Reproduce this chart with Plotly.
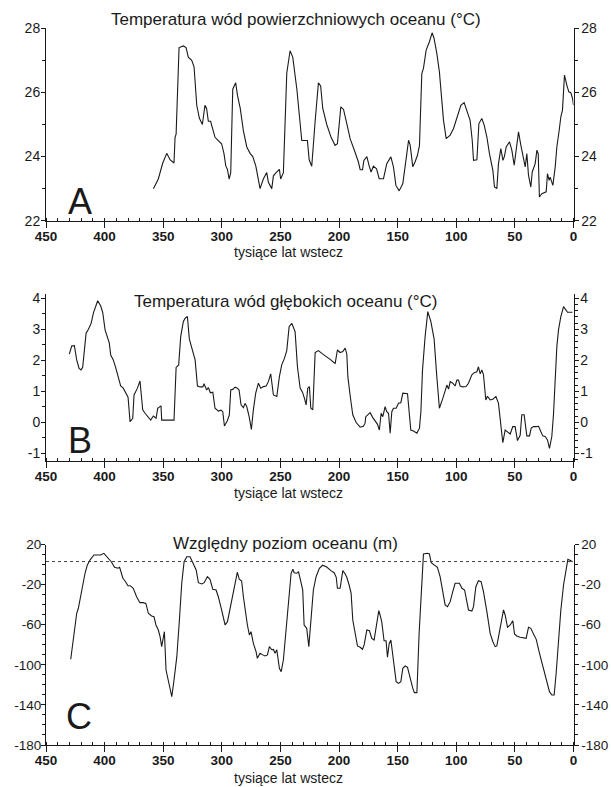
import plotly.graph_objects as go

# ---------------- data ----------------
x_tick_vals = [450, 400, 350, 300, 250, 200, 150, 100, 50, 0]
x_tick_text = ["450", "400", "350", "300", "250", "200", "150", "100", "50", "0"]

a_tick_vals = [22, 24, 26, 28]
a_tick_text = ["22", "24", "26", "28"]
b_tick_vals = [-1, 0, 1, 2, 3, 4]
b_tick_text = ["-1", "0", "1", "2", "3", "4"]
c_tick_vals = [-180, -140, -100, -60, -20, 20]
c_tick_text = ["-180", "-140", "-100", "-60", "-20", "20"]

title_a = "Temperatura wód powierzchniowych oceanu (°C)"
title_b = "Temperatura wód głębokich oceanu (°C)"
title_c = "Względny poziom oceanu (m)"
x_title = "tysiące lat wstecz"
reference_level = 3

# Panel A: sea surface temperature
sst_age = [358.4, 354.2, 350.4, 347.0, 344.2, 340.8, 339.9, 339.0, 336.5, 332.8, 330.5, 328.6,
           325.7, 323.7, 321.4, 319.2, 316.6, 314.4, 313.0, 311.5, 309.6, 307.7, 305.8, 303.0,
           300.2, 298.2, 296.6, 295.2, 293.8, 292.4, 290.7, 288.2, 286.6, 284.3, 281.6, 278.7,
           275.9, 273.6, 271.0, 267.4, 264.6, 261.7, 260.3, 257.4, 256.0, 253.7, 250.9, 249.8,
           247.5, 244.6, 241.8, 239.5, 236.0, 231.8, 229.8, 227.0, 225.5, 223.3, 220.4, 217.6,
           215.7, 213.9, 210.5, 206.8, 203.4, 201.4, 198.5, 196.2, 193.4, 190.5, 186.5, 183.5,
           182.0, 180.0, 178.8, 176.3, 174.1, 172.7, 170.7, 168.0, 165.8, 162.1, 159.3, 155.8,
           153.6, 151.5, 148.7, 145.6, 142.2, 140.7, 139.3, 137.1, 135.2, 133.1, 131.4, 129.4,
           128.0, 125.7, 122.9, 120.6, 119.0, 116.6, 114.4, 112.3, 110.9, 108.6, 105.2, 102.4,
           99.0, 96.1, 93.3, 91.0, 88.2, 86.4, 85.3, 82.4, 80.7, 78.2, 76.2, 73.9, 71.7, 68.8,
           67.4, 65.4, 64.0, 62.0, 60.2, 59.0, 57.4, 54.6, 52.6, 50.6, 48.9, 46.9, 44.9, 43.2,
           41.2, 39.8, 38.4, 36.4, 35.2, 32.7, 31.2, 30.1, 29.1, 27.0, 23.3, 22.2, 20.8, 19.9,
           17.6, 15.6, 14.2, 12.2, 10.8, 9.4, 7.7, 5.7, 4.0, 2.3, 0.8, 0.0]
sst_value = [23.0, 23.3, 23.8, 24.1, 23.9, 23.8, 24.6, 24.7, 27.4, 27.45, 27.4, 27.1,
             27.0, 26.8, 25.6, 25.2, 25.0, 25.6, 25.5, 25.1, 25.1, 24.8, 24.6, 24.5,
             24.4, 24.1, 23.7, 23.6, 23.3, 23.5, 26.1, 26.3, 25.9, 25.5, 24.8, 24.3,
             24.1, 24.0, 23.7, 23.0, 23.3, 23.5, 23.2, 23.0, 23.4, 23.5, 23.6, 23.3,
             23.5, 26.6, 27.3, 27.1, 26.1, 24.5, 24.5, 24.5, 23.9, 23.7, 25.1, 26.3,
             26.2, 25.5, 25.0, 24.6, 24.35, 24.4, 25.55, 25.47, 25.03, 24.55, 24.15, 23.83,
             23.59, 23.59, 23.88, 24.0, 23.68, 23.52, 23.7, 23.62, 23.31, 23.31, 23.78, 23.99,
             23.68, 23.1, 22.93, 23.16, 24.09, 24.51, 24.35, 23.68, 23.83, 24.04, 24.35, 26.59,
             26.75, 27.32, 27.58, 27.86, 27.69, 27.22, 26.64, 25.86, 25.13, 24.56, 24.67, 24.87,
             25.24, 25.6, 25.68, 25.45, 25.13, 24.51, 23.88, 23.9, 25.03, 25.19, 24.98, 24.61, 24.09, 23.57,
             23.05, 23.0, 23.78, 24.25, 23.88, 24.0, 24.3, 24.46, 24.2, 23.73, 24.25, 24.77, 24.35, 23.99,
             23.68, 24.09, 23.42, 23.05, 23.52, 23.78, 24.2, 24.09, 22.74, 22.84, 22.9, 23.47, 23.26, 23.36,
             23.1, 23.68, 24.3, 24.82, 25.24, 25.45, 26.54, 26.23, 26.02, 25.99, 25.81, 25.6]

# Panel B: deep ocean temperature
dwt_age = [430.1, 428.1, 425.8, 423.8, 421.8, 420.1, 418.7, 415.8, 413.8, 411.5, 409.6, 407.6,
           405.9, 403.3, 401.6, 399.6, 397.7, 396.0, 394.8, 392.6, 390.6, 388.4, 386.3, 384.1,
           381.7, 380.0, 378.3, 376.0, 374.9, 372.0, 369.8, 367.5, 365.5, 363.3, 360.7, 358.4,
           356.1, 354.7, 351.9, 351.3, 340.8, 339.0, 336.8, 335.1, 332.8, 331.4, 329.4, 327.7,
           324.8, 322.8, 320.8, 318.5, 316.2, 315.2, 312.9, 311.5, 309.8, 307.7, 305.8, 302.9,
           300.7, 299.2, 297.8, 295.3, 293.6, 292.4, 290.7, 288.7, 286.7, 285.3, 283.6, 281.6,
           280.2, 278.7, 276.7, 274.8, 273.1, 271.1, 268.8, 266.8, 264.5, 262.2, 260.3, 258.3,
           256.0, 253.1, 250.9, 248.9, 246.6, 244.6, 242.6, 240.3, 237.5, 235.5, 233.2, 231.2,
           229.5, 228.1, 226.7, 225.3, 224.1, 222.4, 220.4, 217.6, 214.7, 210.4, 207.6, 204.2,
           203.3, 201.4, 199.1, 196.8, 194.8, 193.4, 192.5, 190.6, 188.3, 185.4, 182.0, 179.2,
           177.8, 177.2, 174.9, 173.5, 171.2, 169.3, 167.3, 165.6, 164.1, 162.7, 160.7, 159.3,
           157.8, 156.4, 155.0, 153.6, 151.3, 149.3, 147.3, 145.6, 142.7, 141.6, 138.8, 136.5,
           133.6, 131.4, 130.2, 128.8, 126.6, 124.3, 121.7, 118.9, 116.6, 114.4, 111.5, 109.2,
           108.0, 106.6, 105.2, 103.0, 101.0, 99.5, 98.1, 96.7, 94.5, 91.6, 89.6, 86.7, 84.7,
           82.4, 81.1, 79.6, 78.2, 76.8, 74.8, 73.4, 71.1, 68.8, 66.2, 64.0, 62.6, 60.3, 58.3,
           56.3, 54.0, 51.8, 49.8, 47.8, 45.5, 44.1, 42.1, 39.8, 37.5, 36.1, 34.1, 31.8, 29.8,
           27.9, 26.2, 24.2, 22.2, 20.5, 18.5, 17.1, 15.6, 14.2, 12.8, 10.8, 8.5, 6.5, 5.1, 2.8, 0.9]
dwt_value = [2.2, 2.46, 2.47, 2.01, 1.74, 1.69, 1.77, 2.87, 3.0, 3.19, 3.52, 3.73,
             3.92, 3.75, 3.54, 2.98, 2.74, 2.55, 2.17, 2.01, 1.77, 1.49, 1.17, 1.1,
             0.94, 0.81, 0.02, 0.13, 0.88, 1.1, 1.33, 0.4, 0.29, 0.18, 0.07, 0.2,
             0.13, 0.45, 0.53, 0.07, 0.07, 1.77, 1.85, 2.76, 3.25, 3.35, 3.41, 2.68,
             2.33, 2.01, 1.17, 1.14, 1.14, 1.24, 1.04, 1.12, 0.95, 0.97, 0.45, 0.36,
             0.39, 0.34, -0.12, 0.05, 0.24, 1.04, 1.06, 1.13, 1.1, 1.04, 0.56, 0.47,
             0.61, 0.5, 0.18, -0.23, 0.4, 0.94, 1.26, 1.1, 1.15, 1.17, 1.31, 1.56,
             0.88, 0.83, 1.47, 1.85, 2.06, 2.31, 3.08, 3.19, 2.92, 1.79, 1.1, 0.97,
             0.77, 0.56, 1.1, 1.15, 0.45, 0.4, 2.25, 2.31, 2.22, 2.12, 2.03, 1.92,
             1.9, 2.33, 2.25, 2.28, 2.39, 2.21, 1.47, 0.88, 0.24, -0.01, -0.16, -0.13,
             -0.03, 0.18, 0.27, 0.31, 0.15, 0.05, -0.06, -0.25, 0.29, 0.18, 0.5, 0.34,
             0.29, -0.35, 0.34, 0.45, 0.45, 0.61, 0.63, 0.94, 0.94, 0.92, -0.25, -0.28,
             -0.35, -0.19, 0.34, 1.69, 2.76, 3.57, 3.25, 2.68, 1.47, 0.45, 0.77, 1.04,
             1.2, 1.07, 1.31, 1.26, 1.17, 1.36, 1.36, 1.17, 1.14, 1.15, 1.26, 1.53, 1.6,
             1.63, 1.79, 1.56, 1.69, 1.53, 0.72, 0.84, 0.72, 0.74, 0.83, 0.61, 0.18, -0.66, -0.25,
             -0.3, -0.38, -0.14, -0.14, -0.59, -0.42, 0.24, 0.24, -0.44, -0.44, -0.19, -0.14, -0.14, -0.13,
             -0.3, -0.44, -0.46, -0.57, -0.84, -0.46, 0.24, 1.36, 2.44, 2.98, 3.41, 3.73, 3.6, 3.55, 3.55, 3.55]

# Panel C: relative sea level
sea_age = [428.9, 426.7, 423.8, 422.4, 419.5, 416.7, 414.7, 412.5, 409.1, 405.4, 403.4, 400.6,
           397.1, 394.3, 391.5, 388.7, 387.2, 384.4, 382.1, 380.1, 378.1, 375.6, 372.7, 369.9,
           367.1, 364.8, 362.7, 359.9, 357.9, 356.2, 354.2, 352.7, 351.3, 349.9, 349.0, 347.6,
           345.3, 342.7, 340.8, 338.4, 336.2, 334.2, 332.2, 329.9, 327.1, 324.2, 321.9, 320.0,
           317.1, 315.1, 312.3, 310.1, 307.7, 304.9, 303.0, 300.2, 297.2, 295.2, 293.1, 290.8,
           288.8, 286.8, 285.1, 283.1, 281.6, 280.2, 278.2, 276.5, 275.1, 273.1, 270.8, 269.7,
           267.4, 265.1, 263.1, 261.1, 259.4, 257.4, 256.0, 254.6, 253.1, 250.9, 249.4, 247.5,
           245.2, 243.2, 240.9, 239.4, 238.3, 236.0, 234.6, 232.6, 231.0, 229.8, 227.6, 225.8,
           224.1, 221.9, 219.6, 216.8, 214.0, 210.5, 207.0, 204.2, 202.4, 201.4, 199.1, 196.8,
           194.8, 193.4, 191.4, 189.7, 188.3, 186.3, 184.3, 182.0, 180.0, 178.6, 176.3, 174.1,
           172.1, 170.1, 167.8, 166.1, 165.0, 163.6, 161.6, 159.9, 158.7, 157.3, 155.8, 154.4,
           153.0, 151.3, 149.3, 147.3, 145.6, 143.6, 141.6, 139.4, 137.1, 135.7, 133.6, 131.7,
           130.0, 128.0, 124.6, 122.9, 121.4, 118.9, 116.1, 113.8, 111.5, 109.5, 107.5, 105.2,
           103.0, 101.0, 97.3, 95.2, 92.9, 91.0, 89.6, 86.7, 85.3, 83.3, 81.1, 78.8, 76.8,
           73.9, 71.1, 68.8, 66.8, 65.4, 63.1, 61.1, 59.7, 58.3, 56.3, 54.0, 51.8, 50.3, 48.4,
           45.5, 42.1, 40.4, 38.4, 36.4, 34.1, 31.8, 29.0, 26.1, 23.3, 20.5, 18.5, 16.5, 14.8,
           12.8, 10.8, 8.5, 6.5, 4.8, 2.2, 0.8]
sea_value = [-94.5, -75.3, -48.6, -43.6, -25.4, -8.7, -0.4, 4.5, 9.5, 9.5, 9.5, 11.2,
             6.2, 2.8, -2.7, -3.7, -2.7, -13.7, -17.1, -21.1, -21.1, -23.7, -32.1, -38.0,
             -38.0, -38.7, -48.6, -51.3, -52.0, -60.3, -65.3, -71.9, -81.9, -71.9, -67.0, -105.2,
             -118.5, -131.8, -115.2, -91.9, -55.3, -18.7, 2.8, 7.8, 7.8, 1.2, -5.4, -18.1,
             -19.4, -18.1, -12.1, -14.7, -24.7, -25.4, -32.1, -45.3, -60.3, -57.0, -45.3, -32.1,
             -18.7, -7.7, -14.7, -16.4, -32.1, -45.3, -60.3, -70.2, -67.0, -78.6, -86.9, -93.5,
             -88.5, -90.1, -91.2, -90.1, -81.9, -85.0, -84.7, -88.5, -85.0, -103.5, -106.9, -95.2,
             -62.0, -35.4, -8.7, -4.7, -8.1, -8.7, -7.1, -17.1, -25.4, -60.3, -63.6, -81.9,
             -55.3, -25.4, -12.1, -3.7, -0.7, -2.5, -6.1, -8.1, -12.7, -23.7, -23.7, -6.1,
             -9.4, -12.7, -20.4, -28.7, -55.3, -70.3, -81.2, -82.5, -84.5, -80.2, -65.3, -66.0,
             -73.6, -75.3, -57.0, -46.0, -50.3, -57.0, -76.0, -76.0, -92.5, -79.2, -75.3, -90.2,
             -103.5, -116.8, -118.5, -116.8, -103.5, -101.2, -102.5, -113.5, -123.5, -127.8, -127.8, -68.6,
             -27.1, 10.5, 11.2, 10.5, 1.8, -0.4, -2.7, -12.1, -27.1, -40.3, -42.0, -37.0,
             -27.1, -18.7, -18.7, -23.7, -25.4, -35.4, -45.3, -46.3, -42.0, -22.1, -16.1, -17.1, -27.1,
             -47.0, -68.6, -77.0, -81.9, -81.2, -67.0, -52.0, -45.3, -50.3, -62.6, -60.3, -56.0, -69.3, -71.3,
             -72.6, -73.6, -73.6, -62.6, -63.6, -69.3, -74.6, -88.5, -101.9, -116.8, -126.8, -130.1, -130.1, -108.5,
             -75.3, -45.3, -20.4, -3.7, 5.2, 3.8, 2.8]

# ---------------- figure ----------------
W, H = 611, 787
FONT = "Liberation Sans, Arial, sans-serif"
INK = "#1a1a1a"


def fx(px):
    return px / W


def fy(py):
    return 1 - py / H


x_dom = [fx(46), fx(573.5)]

fig = go.Figure()
line_style = dict(color=INK, width=1.1)
fig.add_trace(go.Scatter(x=sst_age, y=sst_value, mode="lines", line=line_style,
                         xaxis="x", yaxis="y", showlegend=False))
fig.add_trace(go.Scatter(x=dwt_age, y=dwt_value, mode="lines", line=line_style,
                         xaxis="x2", yaxis="y3", showlegend=False))
fig.add_trace(go.Scatter(x=sea_age, y=sea_value, mode="lines", line=line_style,
                         xaxis="x3", yaxis="y5", showlegend=False))
# invisible traces to attach right-hand axes
for xa, ya in [("x", "y2"), ("x2", "y4"), ("x3", "y6")]:
    fig.add_trace(go.Scatter(x=[None], y=[None], mode="lines", xaxis=xa, yaxis=ya,
                             showlegend=False, hoverinfo="skip"))


def xaxis(anchor):
    return dict(domain=x_dom, anchor=anchor, range=[450, 0], tickmode="array",
                tickvals=x_tick_vals, ticktext=x_tick_text, ticks="outside", ticklen=6,
                tickwidth=1, tickcolor=INK, showline=True, linecolor=INK, linewidth=1,
                showgrid=False, zeroline=False, automargin=False, ticklabelstandoff=-3,
                tickfont=dict(family=FONT, size=13.5, color=INK, weight="bold"),
                minor=dict(tickmode="linear", tick0=0, dtick=10, ticks="inside", ticklen=3,
                           tickwidth=1, tickcolor=INK, showgrid=False))


def yaxis(dom, rng, vals, text, minor_dt, anchor, side, overlay=None, size=14, standoff=0):
    d = dict(domain=dom, anchor=anchor, side=side, range=rng, tickmode="array",
             tickvals=vals, ticktext=text, ticks="outside", ticklen=4, tickwidth=1,
             tickcolor=INK, showline=True, linecolor=INK, linewidth=1, showgrid=False,
             zeroline=False, automargin=False, ticklabelstandoff=standoff,
             tickfont=dict(family=FONT, size=size, color=INK),
             minor=dict(tickmode="linear", tick0=0, dtick=minor_dt, ticks="outside",
                        ticklen=3, tickwidth=1, tickcolor=INK, showgrid=False))
    if overlay:
        d["overlaying"] = overlay
    return d


dom_a = [fy(220.7), fy(28.3)]
dom_b = [fy(461.0), fy(293.6)]
dom_c = [fy(745.0), fy(544.5)]
rng_a = [22, 28]
rng_b = [-1.25, 4.15]
rng_c = [-180, 20]

fig.update_layout(
    width=W, height=H,
    margin=dict(l=0, r=0, t=0, b=0),
    paper_bgcolor="white", plot_bgcolor="white",
    font=dict(family=FONT, color=INK),
    hovermode=False,
    xaxis=xaxis("y"), xaxis2=xaxis("y3"), xaxis3=xaxis("y5"),
    yaxis=yaxis(dom_a, rng_a, a_tick_vals, a_tick_text, 1, "x", "left", standoff=-2),
    yaxis2=yaxis(dom_a, rng_a, a_tick_vals, a_tick_text, 1, "x", "right", "y", standoff=0),
    yaxis3=yaxis(dom_b, rng_b, b_tick_vals, b_tick_text, 0.5, "x2", "left", standoff=-2),
    yaxis4=yaxis(dom_b, rng_b, b_tick_vals, b_tick_text, 0.2, "x2", "right", "y3", standoff=-1),
    yaxis5=yaxis(dom_c, rng_c, c_tick_vals, c_tick_text, 10, "x3", "left", size=13.5,
                 standoff=-3),
    yaxis6=yaxis(dom_c, rng_c, c_tick_vals, c_tick_text, 10, "x3", "right", "y5",
                 size=13.5, standoff=0),
)

fig.add_shape(type="line", xref="x3", yref="y5", x0=450, x1=0,
              y0=reference_level, y1=reference_level,
              line=dict(color="#444", width=1, dash="dot"))

ann = []


def text(px, py, s, size, xanchor="center"):
    ann.append(dict(x=fx(px), y=fy(py), xref="paper", yref="paper", text=s,
                    showarrow=False, xanchor=xanchor, yanchor="middle",
                    font=dict(family=FONT, size=size, color=INK)))


text(296, 20, title_a, 17)
text(285.7, 301.7, title_b, 17)
text(285.7, 543.3, title_c, 17)
for py in (252.0, 492.6, 778.3):
    text(288.6, py, x_title, 14)
text(80, 201, "A", 36)
text(80, 441, "B", 36)
text(79, 716, "C", 36)
fig.update_layout(annotations=ann)

fig.write_html(
    "out.html",
    config={"displayModeBar": False, "staticPlot": True},
    post_script="document.body.style.margin='0px';document.body.style.overflow='hidden';",
)
